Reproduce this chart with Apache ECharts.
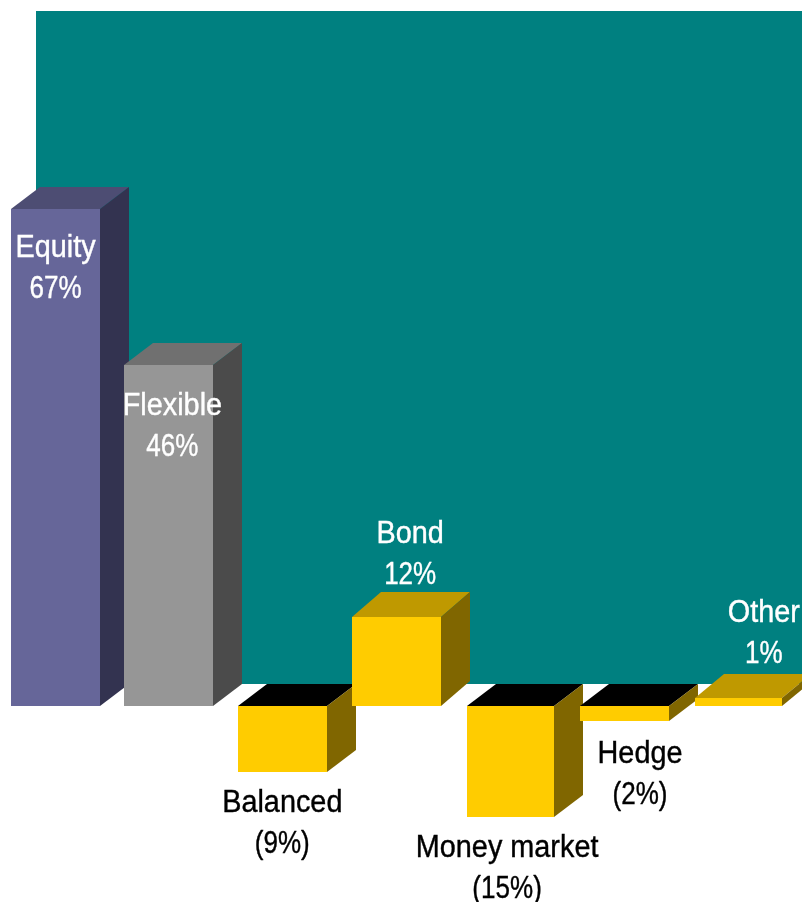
<!DOCTYPE html>
<html>
<head>
<meta charset="utf-8">
<style>html,body{margin:0;padding:0;background:#fff}#chart{width:802px;height:902px}</style>
<script src="https://cdn.jsdelivr.net/npm/echarts@6/dist/echarts.min.js"></script>
</head>
<body>
<div id="chart"></div>
<script>
// Fund categories and their net share, in percent
const categories = ['Equity', 'Flexible', 'Balanced', 'Bond', 'Money market', 'Hedge', 'Other'];
const shares = [67, 46, -9, 12, -15, -2, 1];

// Face colours of a block: front, side, top
const purple = ['#666699', '#333350', '#4d4d73'];
const grey = ['#969696', '#4b4b4b', '#707070'];
const gold = ['#ffcc00', '#806600', '#bf9900'];
const goldOpenTop = ['#ffcc00', '#806600', '#000000'];
const blockFaces = [purple, grey, goldOpenTop, gold, goldOpenTop, goldOpenTop, gold];

// Label placement relative to the block's centre and its outer front edge
const labelOffsetX = [0, 3, -1, 13, -4, 15, 25];
const labelOffsetY = [39, 41, 31, -83, 31, 33, -85];
const labelColors = ['#fff', '#fff', '#000', '#fff', '#000', '#000', '#fff'];

const blockWidths = [89, 89, 89, 89, 87, 89, 87];
const DEPTH_X = 29;
const depthY = [22, 22, 22, 25, 22, 22, 24];
const LINE_GAP = 41.5;
const FONT = '31px "Liberation Sans", sans-serif';
const NAME_SQUEEZE = 0.93;
const VALUE_SQUEEZE = 0.84;

function renderBlock(params, api) {
  const i = params.dataIndex;
  const value = api.value(1);
  const base = api.coord([i, 0]);
  const tip = api.coord([i, value]);
  const width = blockWidths[i];
  const x0 = Math.floor(base[0] - width / 2);
  const x1 = x0 + width;
  const top = Math.round(Math.min(base[1], tip[1]));
  const bottom = Math.round(Math.max(base[1], tip[1]));
  const dy = depthY[i];
  const faces = blockFaces[i];
  const poly = (points, fill) => ({
    type: 'polygon',
    shape: { points },
    style: { fill }
  });
  const edge = value >= 0 ? top : bottom;
  const cx = base[0] + labelOffsetX[i];
  const cy = edge + labelOffsetY[i];
  const valueText = value >= 0 ? value + '%' : '(' + Math.abs(value) + '%)';
  // Condensed lettering: a regular face squeezed horizontally about its centre
  const text = (content, y, squeeze) => ({
    type: 'text',
    z2: 10,
    x: cx,
    y,
    scaleX: squeeze,
    style: {
      text: content,
      x: 0,
      y: 0,
      font: FONT,
      fill: labelColors[i],
      stroke: labelColors[i],
      lineWidth: 0.4,
      textAlign: 'center',
      textVerticalAlign: 'middle'
    }
  });
  return {
    type: 'group',
    children: [
      poly([[x0, top], [x0 + DEPTH_X, top - dy], [x1 + DEPTH_X, top - dy], [x1, top]], faces[2]),
      poly([[x1, top], [x1 + DEPTH_X, top - dy], [x1 + DEPTH_X, bottom - dy], [x1, bottom]], faces[1]),
      poly([[x0, top], [x1, top], [x1, bottom], [x0, bottom]], faces[0]),
      text(categories[i], cy, NAME_SQUEEZE),
      text(valueText, cy + LINE_GAP, VALUE_SQUEEZE)
    ]
  };
}

const chart = echarts.init(document.getElementById('chart'), null, { renderer: 'canvas' });
chart.setOption({
  animation: false,
  backgroundColor: '#ffffff',
  // Back wall of the 3D scene
  graphic: [{
    type: 'rect',
    z: -10,
    silent: true,
    shape: { x: 36, y: 11, width: 766, height: 673 },
    style: { fill: '#008080' }
  }],
  grid: { left: 55.5, width: 683.4, top: 113, height: 741 },
  xAxis: { type: 'category', boundaryGap: false, data: categories, show: false },
  yAxis: { type: 'value', min: -20, max: 80, show: false },
  series: [{
    type: 'custom',
    clip: false,
    encode: { x: 0, y: 1 },
    data: shares.map((v, i) => [i, v]),
    renderItem: renderBlock
  }]
});
</script>
</body>
</html>
